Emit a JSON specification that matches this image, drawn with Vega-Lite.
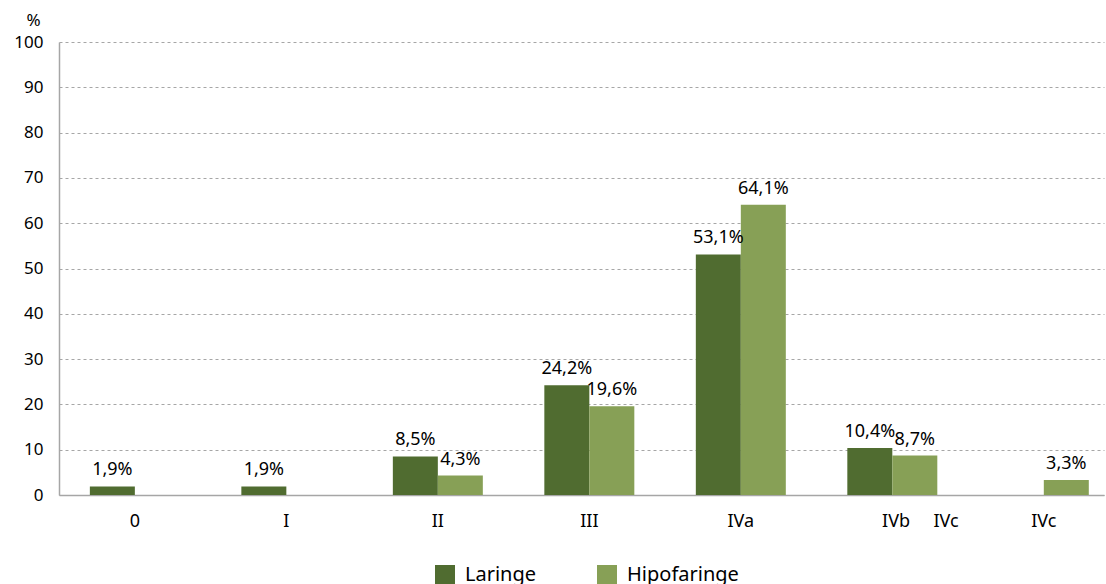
{
 "$schema": "https://vega.github.io/schema/vega-lite/v6.json",
 "width": 1045,
 "height": 453,
 "autosize": {"type": "none"},
 "padding": {"left": 59, "top": 42, "right": 2, "bottom": 89},
 "background": "white",
 "config": {"font": "Noto Sans", "view": {"stroke": null}},
 "data": {"values": [
  {"stage": "0", "series": "Laringe", "value": 1.9, "label": "1,9%"},
  {"stage": "I", "series": "Laringe", "value": 1.9, "label": "1,9%"},
  {"stage": "II", "series": "Laringe", "value": 8.5, "label": "8,5%"},
  {"stage": "II", "series": "Hipofaringe", "value": 4.3, "label": "4,3%"},
  {"stage": "III", "series": "Laringe", "value": 24.2, "label": "24,2%"},
  {"stage": "III", "series": "Hipofaringe", "value": 19.6, "label": "19,6%"},
  {"stage": "IVa", "series": "Laringe", "value": 53.1, "label": "53,1%"},
  {"stage": "IVa", "series": "Hipofaringe", "value": 64.1, "label": "64,1%"},
  {"stage": "IVb", "series": "Laringe", "value": 10.4, "label": "10,4%"},
  {"stage": "IVb", "series": "Hipofaringe", "value": 8.7, "label": "8,7%"},
  {"stage": "IVc", "series": "Hipofaringe", "value": 3.3, "label": "3,3%"}
 ]},
 "encoding": {
  "x": {
   "field": "stage", "type": "nominal",
   "sort": ["0", "I", "II", "III", "IVa", "IVb", "IVc"],
   "scale": {"paddingInner": 0.406, "paddingOuter": 0.152, "align": 0.67},
   "axis": {
    "title": null, "labelAngle": 0, "ticks": false,
    "domainColor": "#a6a6a6", "domainWidth": 1.5,
    "labelFontSize": 18, "labelColor": "#000", "labelPadding": 17,
    "labelExpr": "datum.value == 'IVb' ? '\u200b\u00a0\u00a0\u00a0\u00a0\u00a0\u00a0\u00a0\u00a0\u00a0\u00a0\u00a0\u00a0IVb\u00a0\u00a0\u00a0\u00a0\u00a0IVc' : datum.value"
   }
  },
  "xOffset": {"field": "series", "type": "nominal", "scale": {"domain": ["Laringe", "Hipofaringe"], "paddingInner": 0, "paddingOuter": 0}},
  "y": {
   "field": "value", "type": "quantitative",
   "scale": {"domain": [0, 100]},
   "axis": {
    "values": [0, 10, 20, 30, 40, 50, 60, 70, 80, 90, 100],
    "title": "%", "titleAngle": 0, "titleX": -26, "titleY": -22,
    "titleAlign": "center", "titleBaseline": "middle",
    "titleFontSize": 17, "titleFontWeight": "normal", "titleColor": "#000",
    "gridDash": [3, 3], "gridColor": "#a6a6a6", "ticks": false,
    "domainColor": "#a6a6a6", "domainWidth": 1.5,
    "labelFontSize": 17, "labelColor": "#000", "labelPadding": 16
   }
  }
 },
 "layer": [
  {
   "mark": {"type": "bar"},
   "encoding": {
    "color": {
     "field": "series", "type": "nominal",
     "scale": {"domain": ["Laringe", "Hipofaringe"], "range": ["#506C30", "#87A056"]},
     "legend": {
      "title": null, "orient": "none", "direction": "horizontal",
      "legendX": 376, "legendY": 523,
      "symbolType": "square", "symbolSize": 400, "symbolStrokeWidth": 0,
      "labelFontSize": 20, "labelColor": "#000", "labelOffset": 10,
      "columnPadding": 60
     }
    }
   }
  },
  {
   "mark": {"type": "text", "baseline": "bottom", "dy": -7, "fontSize": 18, "color": "#000"},
   "encoding": {"text": {"field": "label"}}
  }
 ]
}
